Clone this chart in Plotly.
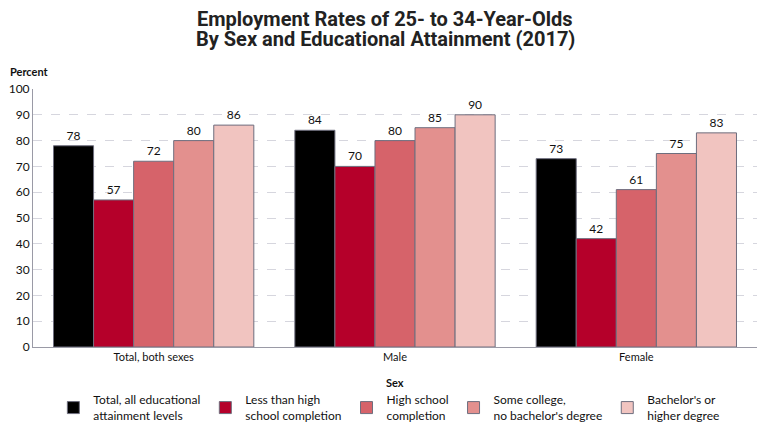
import plotly.graph_objects as go

categories = ["Total, both sexes", "Male", "Female"]
series_names = [
    "Total, all educational<br>attainment levels",
    "Less than high<br>school completion",
    "High school<br>completion",
    "Some college,<br>no bachelor's degree",
    "Bachelor's or<br>higher degree",
]
values = [
    [78, 84, 73],
    [57, 70, 42],
    [72, 80, 61],
    [80, 85, 75],
    [86, 90, 83],
]
colors = ["#000000", "#B5002A", "#D6636A", "#E3908E", "#F1C4C0"]
y_ticks = list(range(0, 101, 10))
title_lines = [
    "Employment Rates of 25- to 34-Year-Olds",
    "By Sex and Educational Attainment (2017)",
]

FONT = "Lato"

fig = go.Figure()
for name, vals, col in zip(series_names, values, colors):
    fig.add_trace(go.Bar(
        x=categories, y=vals, name=name,
        marker=dict(color=col, line=dict(color="#6E6E7E", width=1)),
        text=[str(v) for v in vals], textposition="outside",
        textfont=dict(family=FONT, size=12, color="#111"),
        cliponaxis=False,
    ))

annotations = [
    dict(
        text="<b>Percent</b>", xref="paper", yref="paper",
        x=-0.035, y=1.035, xanchor="left", yanchor="bottom",
        showarrow=False, font=dict(family=FONT, size=11, color="#111"),
    ),
    dict(
        text="<b>Sex</b>", xref="paper", yref="paper",
        x=0.5, y=0, xanchor="center", yanchor="top", yshift=-27,
        showarrow=False, font=dict(family=FONT, size=11, color="#111"),
    ),
]
for line, ypos in zip(title_lines, [1.2694, 1.1919]):
    annotations.append(dict(
        text="<b>" + line + "</b>", xref="paper", yref="paper",
        x=0.4865, y=ypos, xanchor="center", yanchor="middle",
        showarrow=False, font=dict(family="Roboto", size=20, color="#222"),
    ))

fig.update_layout(
    width=771, height=429,
    barmode="group", bargap=0.17, bargroupgap=0,
    plot_bgcolor="white", paper_bgcolor="white",
    margin=dict(l=33, r=14, t=89, b=82, autoexpand=False),
    font=dict(family=FONT, size=12, color="#111"),
    legend=dict(
        orientation="h", x=0.505, xanchor="center", xref="container",
        y=0.049, yanchor="middle", yref="container",
        font=dict(family=FONT, size=12, color="#111"),
        traceorder="normal", itemclick=False,
    ),
    xaxis=dict(
        showline=True, linecolor="#9A9AA6", linewidth=1,
        tickfont=dict(family=FONT, size=11), automargin=False,
    ),
    yaxis=dict(
        range=[0, 100], tickvals=y_ticks, automargin=False,
        showline=True, linecolor="#9A9AA6", linewidth=1,
        showgrid=True, gridcolor="#D6D6DE", griddash="dash", gridwidth=1,
        tickfont=dict(family=FONT, size=12),
        zeroline=False,
    ),
    annotations=annotations,
)

fig.write_html(
    "out.html",
    config={"displayModeBar": False},
    post_script="document.body.style.margin='0';document.body.style.overflow='hidden';",
)
